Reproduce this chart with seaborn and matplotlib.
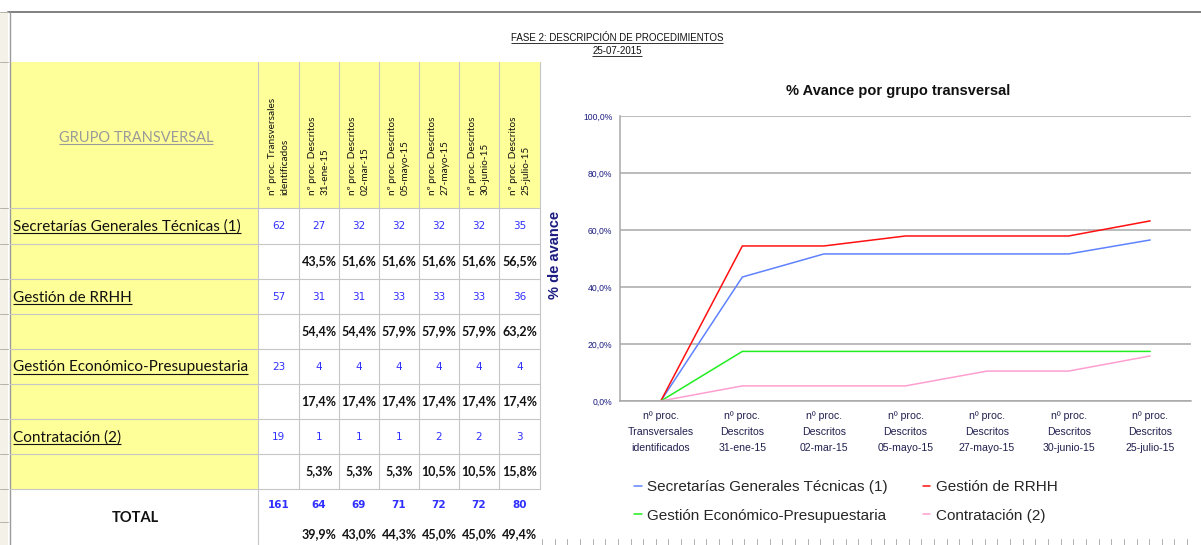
import matplotlib
matplotlib.use("Agg")
import numpy as np
import pandas as pd
import matplotlib.pyplot as plt
import seaborn as sns
from matplotlib.patches import Rectangle

# ---- datos ----
grupos = ["Secretarías Generales Técnicas (1)", "Gestión de RRHH",
          "Gestión Económico-Presupuestaria", "Contratación (2)"]
fechas = ["31-ene-15", "02-mar-15", "05-mayo-15", "27-mayo-15", "30-junio-15", "25-julio-15"]

identificados = [62, 57, 23, 19]
descritos_sgt = [27, 32, 32, 32, 32, 35]
descritos_rrhh = [31, 31, 33, 33, 33, 36]
descritos_eco = [4, 4, 4, 4, 4, 4]
descritos_contr = [1, 1, 1, 2, 2, 3]

# % avance; first point is the "identificados" column (0 %)
avance_sgt = [0.0, 43.5, 51.6, 51.6, 51.6, 51.6, 56.5]
avance_rrhh = [0.0, 54.4, 54.4, 57.9, 57.9, 57.9, 63.2]
avance_eco = [0.0, 17.4, 17.4, 17.4, 17.4, 17.4, 17.4]
avance_contr = [0.0, 5.3, 5.3, 5.3, 10.5, 10.5, 15.8]

total_identificados = 161
total_descritos = [64, 69, 71, 72, 72, 80]
total_avance = [39.9, 43.0, 44.3, 45.0, 45.0, 49.4]

colores = ["#5f82ff", "#ff1010", "#20ee20", "#ff9fd0"]

descritos = [descritos_sgt, descritos_rrhh, descritos_eco, descritos_contr]
avances = [avance_sgt, avance_rrhh, avance_eco, avance_contr]
categorias = ["nº proc.\nTransversales\nidentificados"] + ["nº proc.\nDescritos\n" + f for f in fechas]
cabeceras = ["nº proc. Transversales\nidentificados"] + ["nº proc. Descritos\n" + f for f in fechas]


def pct(v):
    return f"{v:.1f}%".replace(".", ",")


sns.set_style("white")
TABLE_FONT = ["Lato", "DejaVu Sans"]
CHART_FONT = ["Liberation Sans", "DejaVu Sans"]
plt.rcParams["font.family"] = CHART_FONT

W, H = 1201, 545
fig = plt.figure(figsize=(W / 100, H / 100), dpi=100)
bg = fig.add_axes([0, 0, 1, 1])
bg.set_xlim(0, W)
bg.set_ylim(H, 0)
bg.axis("off")
renderer = fig.canvas.get_renderer()


def subrayar(t, color, off=2.0, lw=0.8):
    bb = t.get_window_extent(renderer)
    y = t.get_position()[1] + off
    bg.plot([bb.x0, bb.x1], [y, y], color=color, lw=lw, solid_capstyle="butt")


# ---- spreadsheet frame ----
bg.add_patch(Rectangle((0, 12), 8, H - 12, color="#f3f1e8", lw=0))
bg.plot([8, W], [12, 12], color="#808080", lw=1.4)
bg.plot([10, 10], [12, H], color="#9a9a9a", lw=1.0)
for y in [12, 62, 208, 244, 279, 314, 349, 384, 419, 454, 489, 522]:
    bg.plot([0, 8], [y, y], color="#b5b2a6", lw=0.7)
for x in np.arange(542, 1190, 12.65):
    bg.plot([x, x], [539, 545], color="#b0b0b0", lw=0.7)

# ---- table ----
col_x = [258, 299, 339, 379, 419, 459, 499, 540]
row_y = [208, 244, 279, 314, 349, 384, 419, 454, 489]
yellow = "#ffff99"
grid = "#c6c6c6"
bg.add_patch(Rectangle((10, 62), 530, 146, color=yellow, lw=0))
bg.add_patch(Rectangle((10, 208), 248, 281, color=yellow, lw=0))
for y in row_y:
    bg.plot([10, 540], [y, y], color=grid, lw=0.8)
for x in col_x:
    bg.plot([x, x], [62, 489], color=grid, lw=0.8)
bg.plot([258, 258], [489, H], color=grid, lw=0.8)

t = bg.text(136, 142, "GRUPO TRANSVERSAL", ha="center", va="baseline",
            fontsize=10.5, color="#9a9a9a", family=TABLE_FONT)
subrayar(t, "#9a9a9a")

for i, cab in enumerate(cabeceras):
    cx = (col_x[i] + col_x[i + 1]) / 2
    bg.text(cx, 195, cab, rotation=90, ha="center", va="bottom", multialignment="left",
            fontsize=7.2, linespacing=1.55, color="#111111", family=TABLE_FONT)

blue = "#2f2fff"
for g, nombre in enumerate(grupos):
    y_num = (row_y[2 * g] + row_y[2 * g + 1]) / 2
    y_pct = (row_y[2 * g + 1] + row_y[2 * g + 2]) / 2
    t = bg.text(13, y_num + 5, nombre, ha="left", va="baseline", fontsize=11.0,
                color="#111111", family=TABLE_FONT)
    subrayar(t, "#111111")
    valores = [identificados[g]] + descritos[g]
    for j, v in enumerate(valores):
        cx = (col_x[j] + col_x[j + 1]) / 2
        bg.text(cx, y_num, str(v), ha="center", va="center", fontsize=7.5,
                color=blue, family=["DejaVu Sans"])
    for j, v in enumerate(avances[g][1:]):
        cx = (col_x[j + 1] + col_x[j + 2]) / 2
        bg.text(cx, y_pct, pct(v), ha="center", va="center", fontsize=9.0,
                weight="bold", color="#111111", family=TABLE_FONT)

bg.text(135, 518, "TOTAL", ha="center", va="center", fontsize=10.5, weight="bold",
        color="#111111", family=TABLE_FONT)
for j, v in enumerate([total_identificados] + total_descritos):
    cx = (col_x[j] + col_x[j + 1]) / 2
    bg.text(cx, 505, str(v), ha="center", va="center", fontsize=7.5, weight="bold",
            color=blue, family=["DejaVu Sans"])
for j, v in enumerate(total_avance):
    cx = (col_x[j + 1] + col_x[j + 2]) / 2
    bg.text(cx, 534, pct(v), ha="center", va="center", fontsize=9.0, weight="bold",
            color="#111111", family=TABLE_FONT)

# ---- titles ----
t = bg.text(617, 41, "FASE 2: DESCRIPCIÓN DE PROCEDIMIENTOS", ha="center", va="baseline",
            fontsize=7.0, color="#111111")
subrayar(t, "#111111", off=1.5, lw=0.6)
t = bg.text(617, 54, "25-07-2015", ha="center", va="baseline", fontsize=7.0, color="#111111")
subrayar(t, "#111111", off=1.5, lw=0.6)

bg.text(898, 91, "% Avance por grupo transversal", ha="center", va="center",
        fontsize=10.5, weight="bold", color="#111111")
bg.text(555, 255, "% de avance", rotation=90, ha="center", va="center",
        fontsize=10.5, weight="bold", color="#1a1a80")

# ---- chart ----
rows = []
for nombre, serie in zip(grupos, avances):
    for i, v in enumerate(serie):
        rows.append({"grupo": nombre, "pos": i, "avance": v})
df = pd.DataFrame(rows)

ax = fig.add_axes([620 / W, 1 - 401 / H, 571 / W, 285 / H])
sns.lineplot(data=df, x="pos", y="avance", hue="grupo", hue_order=grupos,
             palette=colores, linewidth=1.1, ax=ax)

ax.set_xlim(-0.5, 6.5)
ax.set_ylim(0, 100)
ax.set_xlabel("")
ax.set_ylabel("")
ax.set_yticks(range(0, 101, 20))
ax.set_yticklabels([pct(v) for v in range(0, 101, 20)])
ax.set_xticks(range(len(categorias)))
ax.set_xticklabels(categorias, linespacing=1.75)
ax.set_xticks(np.arange(0.5, 7, 1), minor=True)
ax.yaxis.grid(True, color="#a8a8a8", lw=1.1)
ax.set_axisbelow(True)
for s in ["top", "right"]:
    ax.spines[s].set_visible(False)
for s in ["left", "bottom"]:
    ax.spines[s].set_color("#a8a8a8")
    ax.spines[s].set_linewidth(1.1)
ax.tick_params(axis="y", length=2.5, width=1, color="#a8a8a8", pad=3,
               labelsize=6.2, labelcolor="#1a1a80")
ax.tick_params(axis="x", which="major", length=0, pad=7, labelsize=7.6,
               labelcolor="#202050")
ax.tick_params(axis="x", which="minor", length=3, width=1, color="#a8a8a8")
ax.set_facecolor("none")

handles, labels = ax.get_legend_handles_labels()
orden = [0, 2, 1, 3]
ax.legend([handles[i] for i in orden], [labels[i] for i in orden],
          loc="upper left", bbox_to_anchor=(634 / W, 1 - 480 / H),
          bbox_transform=fig.transFigure, ncol=2, frameon=False,
          handlelength=0.5, handletextpad=0.35, columnspacing=2.3,
          labelspacing=0.95, fontsize=11, borderpad=0, borderaxespad=0,
          labelcolor="#262626")

fig.savefig("out.png", dpi=100)
